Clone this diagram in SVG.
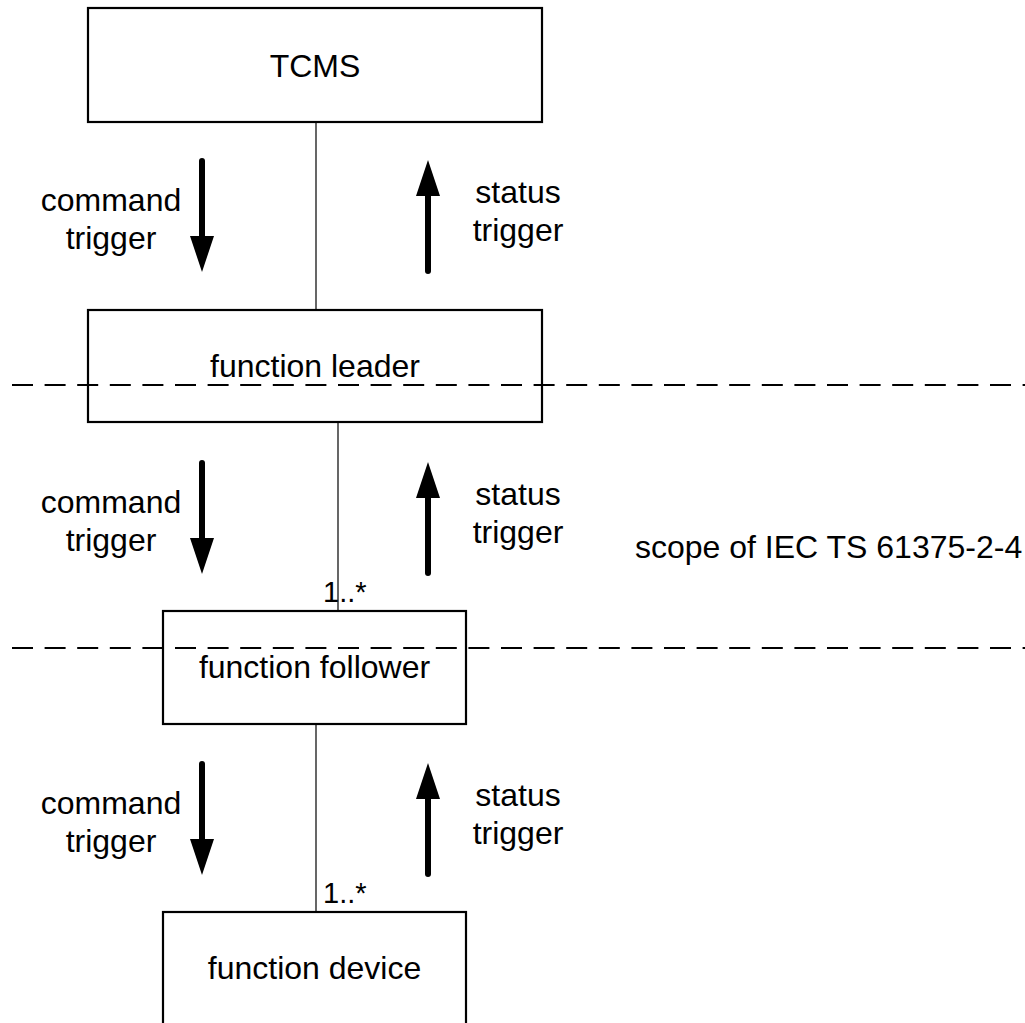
<svg xmlns="http://www.w3.org/2000/svg" width="1025" height="1023" viewBox="0 0 1025 1023">
<style>
.box{fill:#fff;stroke:#000;stroke-width:2.2}
.t{font-family:"Liberation Sans",Arial,sans-serif;font-size:32px;fill:#000}
.c{text-anchor:middle}
.m{font-family:"Liberation Sans",Arial,sans-serif;font-size:29px;fill:#000}
.ln{stroke:#000;stroke-width:1.2;fill:none}
.dash{stroke:#000;stroke-width:1.8;stroke-dasharray:21 11.6;fill:none}
.arr{stroke:#000;stroke-width:6;stroke-linecap:round;fill:none;marker-end:url(#ah)}
</style>
<defs>
<marker id="ah" markerUnits="userSpaceOnUse" markerWidth="36" markerHeight="24" viewBox="0 0 36 24" refX="9" refY="12" orient="auto">
<path d="M0,0 L36,12 L0,24 z" fill="#000"/>
</marker>
</defs>
<rect width="1025" height="1023" fill="#fff"/>
<g id="connectors">
<line class="ln" x1="316" y1="122" x2="316" y2="310"/>
<line class="ln" x1="338" y1="422" x2="338" y2="611"/>
<line class="ln" x1="316" y1="724" x2="316" y2="912"/>
</g>
<g id="node-tcms">
<rect class="box" x="88" y="8" width="454" height="114"/>
<text class="t c" x="315" y="77">TCMS</text>
</g>
<g id="node-leader">
<rect class="box" x="88" y="310" width="454" height="112"/>
<text class="t c" x="315" y="377">function leader</text>
</g>
<g id="node-follower">
<rect class="box" x="163" y="611" width="303" height="113"/>
<text class="t c" x="314.5" y="678">function follower</text>
</g>
<g id="node-device">
<rect class="box" x="163" y="912" width="303" height="120"/>
<text class="t c" x="314.5" y="979">function device</text>
</g>
<g id="scope-lines">
<line class="dash" x1="12" y1="385" x2="1025" y2="385"/>
<line class="dash" x1="12" y1="648" x2="1025" y2="648"/>
<text class="t" x="635" y="558">scope of IEC TS 61375-2-4</text>
</g>
<g id="multiplicity">
<text class="m" x="323" y="602">1..*</text>
<text class="m" x="323" y="903">1..*</text>
</g>
<g id="triggers">
<line class="arr" x1="202" y1="161" x2="202" y2="245"/>
<line class="arr" x1="428" y1="271" x2="428" y2="187"/>
<text class="t c" x="111" y="211">command</text>
<text class="t c" x="111" y="249">trigger</text>
<text class="t c" x="518" y="203">status</text>
<text class="t c" x="518" y="241">trigger</text>

<line class="arr" x1="202" y1="463" x2="202" y2="547"/>
<line class="arr" x1="428" y1="573" x2="428" y2="489"/>
<text class="t c" x="111" y="513">command</text>
<text class="t c" x="111" y="551">trigger</text>
<text class="t c" x="518" y="505">status</text>
<text class="t c" x="518" y="543">trigger</text>

<line class="arr" x1="202" y1="764" x2="202" y2="848"/>
<line class="arr" x1="428" y1="874" x2="428" y2="790"/>
<text class="t c" x="111" y="814">command</text>
<text class="t c" x="111" y="852">trigger</text>
<text class="t c" x="518" y="806">status</text>
<text class="t c" x="518" y="844">trigger</text>
</g>
</svg>
